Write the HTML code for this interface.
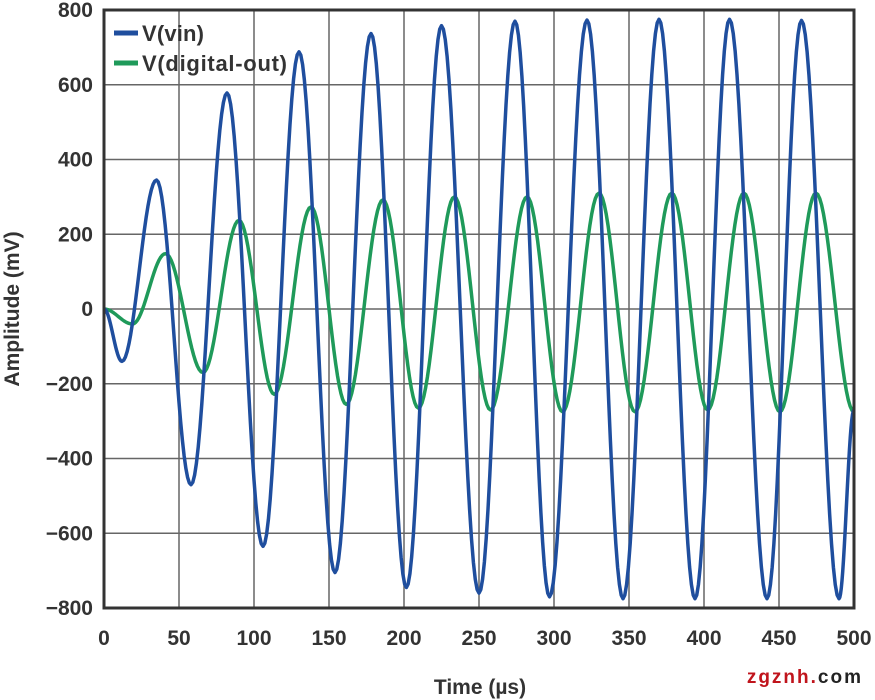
<!DOCTYPE html>
<html><head><meta charset="utf-8"><style>
html,body{margin:0;padding:0;background:#fff;}
svg{display:block;font-family:"Liberation Sans",sans-serif;font-weight:bold;}
</style></head><body>
<svg id="chart" width="875" height="700" viewBox="0 0 875 700"></svg>
<script>
const xTicks=[0,50,100,150,200,250,300,350,400,450,500];
const yTicks=[-800,-600,-400,-200,0,200,400,600,800];
const yTickLabels=["\u2212800","\u2212600","\u2212400","\u2212200","0","200","400","600","800"];
const vinTimes=[0,12,35,58,82,106,130,154,178,201.6,225,250,274,297,322,346,370,394,417,442,465,490,500];
const vinValues=[0,-140,345,-470,578,-635,688,-705,737,-745,758,-760,770,-770,773,-775,775,-775,775,-775,772,-775,-270];
const outTimes=[0,19,41,66,90,113.5,138,161.5,186,209.6,233.6,257.7,282,305.7,330,354,378.5,402.5,426.6,450.6,474.6,500];
const outValues=[0,-40,148,-170,237,-228,273,-255,292,-265,300,-270,300,-275,310,-275,310,-270,310,-275,310,-275];
const X0=104,X1=854,Y0=608,Y1=10;
const xs=t=>X0+(t-0)/(500-0)*(X1-X0);
const ys=v=>Y0-(v+800)/1600*(Y0-Y1);
const NS="http://www.w3.org/2000/svg";
const svg=document.getElementById('chart');
function mk(tag,attrs){const e=document.createElementNS(NS,tag);for(const k in attrs)e.setAttribute(k,attrs[k]);svg.appendChild(e);return e;}
xTicks.forEach((t,i)=>{
  if(i>0&&i<xTicks.length-1){const g=mk('line',{x1:xs(t),x2:xs(t),y1:Y1,y2:Y0,stroke:'#666','stroke-width':1.5});
  
  }
  const l=mk('text',{x:xs(t),y:645,'text-anchor':'middle','font-size':21,fill:'#333'});l.textContent=t;
  
  
});
yTicks.forEach((v,i)=>{
  if(i>0&&i<yTicks.length-1){const g=mk('line',{x1:X0,x2:X1,y1:ys(v),y2:ys(v),stroke:'#666','stroke-width':1.5});
  
  }
  const l=mk('text',{x:93,y:ys(v)+7,'text-anchor':'end','font-size':21,fill:'#333'});l.textContent=yTickLabels[i];
  
  
});
function path(times,vals,color,name){
  let d='';
  for(let i=0;i<times.length-1;i++){
    const t0=times[i],t1=times[i+1],v0=vals[i],v1=vals[i+1];
    for(let k=0;k<=20;k++){
      const f=k/20,t=t0+(t1-t0)*f,v=v0+(v1-v0)*(1-Math.cos(Math.PI*f))/2;
      d+=(d?'L':'M')+xs(t).toFixed(2)+','+ys(v).toFixed(2);
    }
  }
  const p=mk('path',{d:d,fill:'none',stroke:color,'stroke-width':3.5,'stroke-linejoin':'round'});
  
  
}
path(outTimes,outValues,'#1f9a5a','series-digital-out');
path(vinTimes,vinValues,'#1f4e9e','series-vin');
const fr=mk('rect',{x:X0,y:Y1,width:X1-X0,height:Y0-Y1,fill:'none',stroke:'#333','stroke-width':3});


[['V(vin)','#1f4e9e',33],['V(digital-out)','#1f9a5a',63]].forEach(([txt,c,y],i)=>{
  const ln=mk('line',{x1:114,x2:138,y1:y,y2:y,stroke:c,'stroke-width':5});
  
  
  const t=mk('text',{x:142,y:y+8,'font-size':22,fill:'#333','textLength':txt.length>8?145:62});t.textContent=txt;
  
  
});
const xt=mk('text',{x:480,y:694,'text-anchor':'middle','font-size':21,fill:'#333'});xt.textContent='Time (\u00b5s)';


const yt=mk('text',{x:0,y:0,'text-anchor':'middle','font-size':21,fill:'#333',transform:'translate(19,309) rotate(-90)'});yt.textContent='Amplitude (mV)';


const wm=mk('text',{x:863,y:683,'text-anchor':'end','font-size':19,'letter-spacing':2});


wm.innerHTML='<tspan fill="#c0141c">zgznh.</tspan><tspan fill="#222">com</tspan>';
</script>
</body></html>
